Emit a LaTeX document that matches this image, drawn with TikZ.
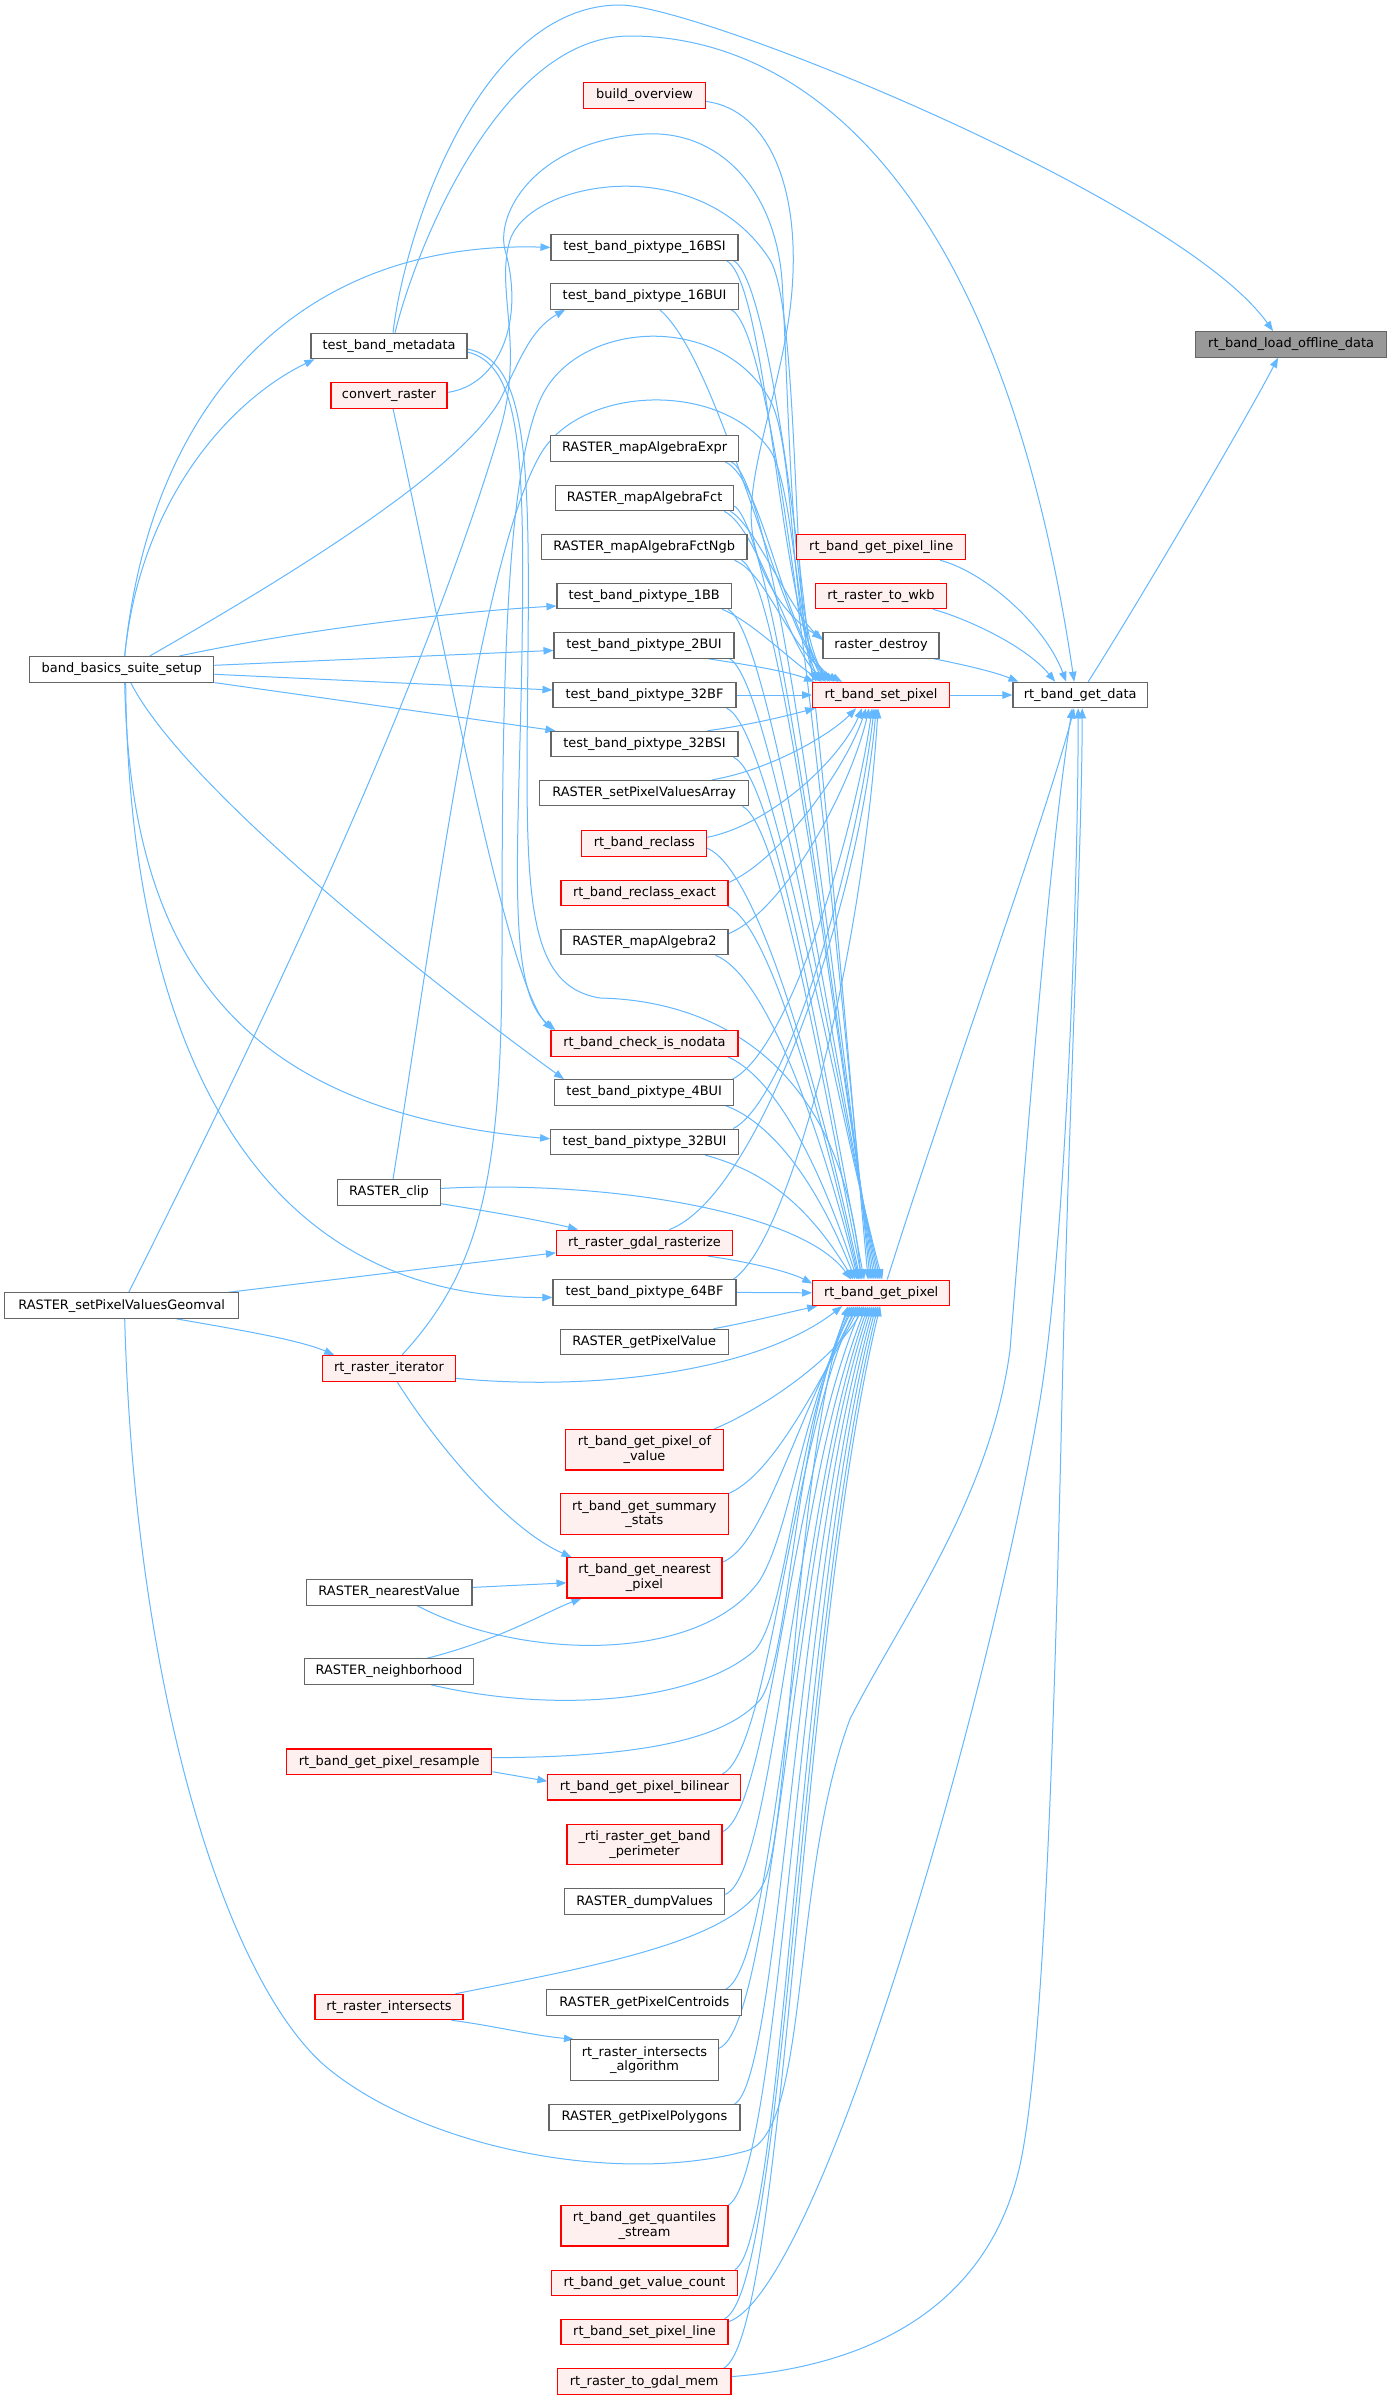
\documentclass[tikz,border=0pt]{standalone}
\usepackage{fontspec}
\newfontfamily\dvs{DejaVu Sans}
\usetikzlibrary{calc,arrows.meta}
\pgfdeclarelayer{bgw}\pgfdeclarelayer{edges}\pgfsetlayers{bgw,edges,main}
\definecolor{edgec}{HTML}{63B8FF}
\definecolor{redfill}{HTML}{FFF0F0}
\definecolor{boxgray}{HTML}{666666}
\definecolor{offfill}{HTML}{999999}
\tikzset{
 nbox/.style={draw=boxgray, fill=white, line width=0.8pt, minimum height=25.5*0.75pt, inner sep=0pt, align=center, font=\dvs\fontsize{9.7pt}{11.1pt}\selectfont},
 rbox/.style={nbox, draw=red, fill=redfill},
 obox/.style={nbox, fill=offfill},
 wd/.style={minimum width=#1*0.75pt},
 tall/.style={minimum height=40.3*0.75pt},
 edg/.style={draw=edgec, line width=0.75pt, -{Triangle[length=7.5pt,width=5.6pt]}},
}
\begin{document}
\begin{tikzpicture}[x=0.75pt,y=-0.75pt]
\useasboundingbox (0,0) rectangle (1392,2400);
\begin{pgfonlayer}{bgw}\fill[white] (0,0) rectangle (1392,2400);\end{pgfonlayer}
% column 0-2
\node[obox,wd=191.4] (off) at (1291.1,344.4) {rt\_band\_load\_offline\_data};
\node[nbox,wd=134.4] (gd) at (1080.2,695) {rt\_band\_get\_data};
\node[rbox,wd=169] (gpl) at (881.2,547) {rt\_band\_get\_pixel\_line};
\node[rbox,wd=131] (wkb) at (881,596) {rt\_raster\_to\_wkb};
\node[nbox,wd=116] (rd) at (881,645.4) {raster\_destroy};
\node[rbox,wd=136.7] (sp) at (881,695) {rt\_band\_set\_pixel};
\node[rbox,wd=137] (gp) at (881.2,1292.8) {rt\_band\_get\_pixel};
% column 3
\node[rbox,wd=122] (bo) at (644.6,95.4) {build\_overview};
\node[nbox,wd=187] (p16s) at (644.5,247.4) {test\_band\_pixtype\_16BSI};
\node[nbox,wd=188] (p16u) at (644.6,296.4) {test\_band\_pixtype\_16BUI};
\node[nbox,wd=188] (mae) at (644.6,448.5) {RASTER\_mapAlgebraExpr};
\node[nbox,wd=178.3] (maf) at (644.6,498) {RASTER\_mapAlgebraFct};
\node[nbox,wd=205.6] (mafn) at (644.2,547) {RASTER\_mapAlgebraFctNgb};
\node[nbox,wd=174.4] (p1bb) at (644.2,596) {test\_band\_pixtype\_1BB};
\node[nbox,wd=180] (p2bui) at (644,645.4) {test\_band\_pixtype\_2BUI};
\node[nbox,wd=183] (p32bf) at (644.5,695) {test\_band\_pixtype\_32BF};
\node[nbox,wd=187] (p32bsi) at (644.5,744) {test\_band\_pixtype\_32BSI};
\node[nbox,wd=209.5] (spva) at (644.2,793) {RASTER\_setPixelValuesArray};
\node[rbox,wd=124.7] (rc) at (644.3,843.3) {rt\_band\_reclass};
\node[rbox,wd=167] (rce) at (644.5,892.8) {rt\_band\_reclass\_exact};
\node[nbox,wd=167] (ma2) at (644.5,942) {RASTER\_mapAlgebra2};
\node[rbox,wd=187] (cin) at (644.5,1043.4) {rt\_band\_check\_is\_nodata};
\node[nbox,wd=179.5] (p4bui) at (644.2,1092.4) {test\_band\_pixtype\_4BUI};
\node[nbox,wd=188] (p32bui) at (644.6,1141.8) {test\_band\_pixtype\_32BUI};
\node[rbox,wd=176] (gr) at (644.5,1242.8) {rt\_raster\_gdal\_rasterize};
\node[nbox,wd=183] (p64bf) at (644.5,1292.4) {test\_band\_pixtype\_64BF};
\node[nbox,wd=167.7] (gpv) at (644.2,1342) {RASTER\_getPixelValue};
\node[rbox,wd=157.5,tall] (gpov) at (644.5,1449.8) {rt\_band\_get\_pixel\_of\\\_value};
\node[rbox,wd=168.5,tall] (gss) at (644.3,1514) {rt\_band\_get\_summary\\\_stats};
\node[rbox,wd=155,tall] (gnp) at (644.5,1577.8) {rt\_band\_get\_nearest\\\_pixel};
\node[rbox,wd=193] (bil) at (644.4,1787.2) {rt\_band\_get\_pixel\_bilinear};
\node[rbox,wd=155,tall] (per) at (644.5,1844.4) {\_rti\_raster\_get\_band\\\_perimeter};
\node[nbox,wd=160] (dv) at (644.7,1901.6) {RASTER\_dumpValues};
\node[nbox,wd=195] (gpc) at (644.4,2002.6) {RASTER\_getPixelCentroids};
\node[nbox,wd=148,tall] (ria) at (644.5,2060) {rt\_raster\_intersects\\\_algorithm};
\node[nbox,wd=191] (gpp) at (644.5,2117.3) {RASTER\_getPixelPolygons};
\node[rbox,wd=167,tall] (gqs) at (644.5,2225.8) {rt\_band\_get\_quantiles\\\_stream};
\node[rbox,wd=185.7] (gvc) at (644.5,2283) {rt\_band\_get\_value\_count};
\node[rbox,wd=167] (spl) at (644.5,2332) {rt\_band\_set\_pixel\_line};
\node[rbox,wd=173.6] (tgm) at (644.2,2381.6) {rt\_raster\_to\_gdal\_mem};
% column 4
\node[nbox,wd=156] (md) at (389,346) {test\_band\_metadata};
\node[rbox,wd=116] (cr) at (389,395.4) {convert\_raster};
\node[nbox,wd=103.2] (clip) at (389,1192.4) {RASTER\_clip};
\node[rbox,wd=132.4] (it) at (389,1368.3) {rt\_raster\_iterator};
\node[nbox,wd=165.6] (nv) at (389.2,1592.4) {RASTER\_nearestValue};
\node[nbox,wd=169.2] (nb) at (389,1671.5) {RASTER\_neighborhood};
\node[rbox,wd=205.5] (rs) at (389.2,1761.7) {rt\_band\_get\_pixel\_resample};
\node[rbox,wd=148] (ri) at (389,2007) {rt\_raster\_intersects};
% column 5
\node[nbox,wd=184.2] (bb) at (121.7,669.3) {band\_basics\_suite\_setup};
\node[nbox,wd=233.7] (gv) at (121.7,1305.6) {RASTER\_setPixelValuesGeomval};

\begin{pgfonlayer}{edges}
% to rt_band_load_offline_data
\draw[edg] ($(gd.north)+(8,0)$) .. controls (1140,600) and (1240,430) .. ($(off.south)+(-13,0)$);
\draw[edg] ($(md.north)+(4,0)$) .. controls (405,230) and (480,5) .. (620,5) .. controls (700,5) and (1180,200) .. ($(off.north)+(-18,0)$);
% to rt_band_get_data
\draw[edg] ($(md.north)+(6,0)$) .. controls (415,250) and (500,36) .. (630,36) .. controls (800,36) and (1000,180) .. ($(gd.north)+(-6,0)$);
\draw[edg] (sp.east) -- (gd.west);
\draw[edg] ($(rd.south east)+(-6,0)$) .. controls (965,665) and (995,672) .. ($(gd.north west)+(6,0)$);
\draw[edg] ($(wkb.south east)+(-14,0)$) .. controls (965,618) and (1025,645) .. ($(gd.north)+(-25,0)$);
\draw[edg] ($(gpl.south east)+(-26,0)$) .. controls (985,572) and (1045,625) .. ($(gd.north)+(-14,0)$);
\draw[edg] ($(gp.north)+(6,0)$) .. controls (950,1080) and (1045,820) .. ($(gd.south)+(-6,0)$);
\draw[edg] ($(spl.north east)+(0,3)$) .. controls (820,2290) and (990,1700) .. (1040,1400) .. controls (1065,1250) and (1078,900) .. ($(gd.south)+(-2,0)$);
\draw[edg] ($(tgm.east)+(0,-5)$) .. controls (880,2365) and (990,2300) .. (1020,2165) .. controls (1045,2050) and (1055,1700) .. (1062,1400) .. controls (1069,1100) and (1082,850) .. ($(gd.south)+(2,0)$);
\draw[edg] ($(gv.south)+(3,0)$) .. controls (135,1700) and (230,1990) .. (330,2070) .. controls (430,2150) and (620,2185) .. (746,2151) .. controls (810,2134) and (790,1880) .. (850,1719) .. controls (900,1620) and (990,1500) .. (1010,1350) .. controls (1030,1100) and (1050,850) .. ($(gd.south)+(-8,0)$);
% to raster_destroy
\draw[edg] ($(bo.east)+(0,6)$) .. controls (770,110) and (800,190) .. (792,290) .. controls (785,380) and (745,470) .. (752,530) .. controls (758,580) and (790,620) .. ($(rd.north west)+(0,6)$);
\draw[edg] ($(maf.south east)+(-4,0)$) .. controls (755,525) and (790,610) .. ($(rd.north west)+(0,8)$);
% long arcs to rt_band_set_pixel
\draw[edg] ($(cr.east)+(0,-3)$) .. controls (500,385) and (525,320) .. (505,250) .. controls (495,210) and (540,140) .. (645,134) .. controls (720,130) and (775,190) .. (782,280) .. controls (790,420) and (790,620) .. ($(sp.north west)+(16,0)$);
\draw[edg] ($(gv.north)+(7,0)$) .. controls (250,1050) and (420,700) .. (500,430) .. controls (525,345) and (495,290) .. (510,240) .. controls (530,180) and (700,150) .. (770,260) .. controls (800,310) and (792,620) .. ($(sp.north west)+(4,0)$);
\draw[edg] ($(it.north)+(13,0)$) .. controls (480,1270) and (502,1180) .. (502,950) .. controls (502,700) and (505,480) .. (540,400) .. controls (575,320) and (720,310) .. (770,400) .. controls (795,445) and (790,620) .. ($(sp.north west)+(8,0)$);
\draw[edg] ($(clip.north)+(4,0)$) .. controls (430,950) and (480,560) .. (540,455) .. controls (580,385) and (720,380) .. (770,450) .. controls (795,490) and (795,630) .. ($(sp.north west)+(12,0)$);
% upper nodes to set_pixel
\draw[edg] ($(p16s.south east)+(-12,0)$) .. controls (770,285) and (780,640) .. ($(sp.north west)+(22,0)$);
\draw[edg] ($(p16u.south)+(15,0)$) .. controls (720,360) and (780,630) .. ($(sp.north west)+(18,0)$);
\draw[edg] ($(mae.south east)+(-14,0)$) .. controls (765,480) and (785,645) .. ($(sp.north west)+(26,0)$);
\draw[edg] ($(maf.south east)+(-10,0)$) .. controls (760,530) and (788,650) .. ($(sp.north west)+(14,0)$);
\draw[edg] ($(mafn.south east)+(-13,0)$) .. controls (770,575) and (790,655) .. ($(sp.north west)+(30,0)$);
\draw[edg] ($(p1bb.south east)+(-10,0)$) .. controls (750,620) and (790,660) .. ($(sp.north west)+(10,0)$);
\draw[edg] ($(p2bui.south east)+(-27,0)$) .. controls (750,665) and (790,672) .. ($(sp.north west)+(2,0)$);
\draw[edg] (p32bf.east) -- (sp.west);
% upper nodes to get_pixel
\draw[edg] ($(p16s.south east)+(-5,0)$) .. controls (790,290) and (842,1000) .. ($(gp.north west)+(56,0)$);
\draw[edg] ($(p16u.south east)+(-8,0)$) .. controls (785,335) and (840,1000) .. ($(gp.north west)+(58,0)$);
\draw[edg] ($(mae.south east)+(-8,0)$) .. controls (780,485) and (838,1020) .. ($(gp.north west)+(60,0)$);
\draw[edg] ($(maf.east)+(0,8)$) .. controls (778,535) and (836,1030) .. ($(gp.north west)+(62,0)$);
\draw[edg] ($(mafn.south east)+(-6,0)$) .. controls (782,580) and (834,1040) .. ($(gp.north west)+(64,0)$);
\draw[edg] ($(p1bb.south east)+(-4,0)$) .. controls (770,630) and (832,1050) .. ($(gp.north west)+(66,0)$);
\draw[edg] ($(p2bui.south east)+(-5,0)$) .. controls (770,680) and (830,1060) .. ($(gp.north west)+(68,0)$);
\draw[edg] ($(p32bf.south east)+(-10,0)$) .. controls (770,725) and (828,1070) .. ($(gp.north west)+(70,0)$);
% middle nodes to set_pixel
\draw[edg] ($(p32bsi.north east)+(-31,0)$) .. controls (750,725) and (790,715) .. ($(sp.south west)+(3,0)$);
\draw[edg] ($(spva.north east)+(-37,0)$) .. controls (770,770) and (830,735) .. ($(sp.south west)+(44,0)$);
\draw[edg] ($(rc.east)+(0,-6)$) .. controls (770,825) and (840,760) .. ($(sp.south west)+(50,0)$);
\draw[edg] ($(rce.north east)+(0,3)$) .. controls (780,860) and (845,770) .. ($(sp.south west)+(54,0)$);
\draw[edg] ($(ma2.north east)+(0,5)$) .. controls (785,910) and (850,790) .. ($(sp.south west)+(57,0)$);
\draw[edg] ($(p4bui.north east)+(-2,0)$) .. controls (790,1050) and (855,830) .. ($(sp.south west)+(60,0)$);
\draw[edg] ($(p32bui.north east)+(-6,0)$) .. controls (790,1100) and (858,850) .. ($(sp.south west)+(62,0)$);
\draw[edg] ($(gr.north)+(25,0)$) .. controls (760,1195) and (860,900) .. ($(sp.south west)+(64,0)$);
\draw[edg] ($(p64bf.north east)+(-3,0)$) .. controls (790,1240) and (862,960) .. ($(sp.south west)+(66,0)$);
% middle nodes to get_pixel
\draw[edg] ($(p32bsi.south east)+(-5,0)$) .. controls (775,775) and (826,1080) .. ($(gp.north west)+(52,0)$);
\draw[edg] ($(spva.south east)+(-7,0)$) .. controls (780,825) and (824,1090) .. ($(gp.north west)+(50,0)$);
\draw[edg] ($(rc.east)+(0,5)$) .. controls (760,870) and (822,1100) .. ($(gp.north west)+(48,0)$);
\draw[edg] ($(rce.south east)+(-1,0)$) .. controls (770,925) and (820,1110) .. ($(gp.north west)+(47,0)$);
\draw[edg] ($(ma2.south east)+(-13,0)$) .. controls (765,975) and (818,1120) .. ($(gp.north west)+(46,0)$);
\draw[edg] ($(cin.south east)+(-11,0)$) .. controls (770,1075) and (815,1150) .. ($(gp.north west)+(45,0)$);
\draw[edg] ($(p4bui.south east)+(-9,0)$) .. controls (765,1120) and (812,1170) .. ($(gp.north west)+(43,0)$);
\draw[edg] ($(p32bui.south east)+(-34,0)$) .. controls (760,1170) and (805,1200) .. ($(gp.north west)+(41,0)$);
\draw[edg] ($(gr.south east)+(-25,0)$) .. controls (750,1262) and (790,1272) .. ($(gp.north west)+(0,4)$);
\draw[edg] (p64bf.east) -- (gp.west);
\draw[edg] ($(gpv.north east)+(-15,0)$) .. controls (750,1322) and (790,1312) .. ($(gp.south west)+(5,0)$);
% lower nodes to get_pixel
\draw[edg] ($(gpov.north east)+(-10,0)$) .. controls (760,1410) and (835,1360) .. ($(gp.south west)+(52,0)$);
\draw[edg] (gss.north east) .. controls (770,1475) and (810,1400) .. ($(gp.south west)+(48,0)$);
\draw[edg] ($(gnp.north east)+(0,5)$) .. controls (765,1545) and (795,1420) .. ($(gp.south west)+(46,0)$);
\draw[edg] ($(bil.north east)+(-19,0)$) .. controls (770,1750) and (790,1450) .. ($(gp.south west)+(44,0)$);
\draw[edg] ($(per.north east)+(0,8)$) .. controls (770,1810) and (790,1480) .. ($(gp.south west)+(50,0)$);
\draw[edg] ($(dv.north east)+(0,6)$) .. controls (775,1875) and (790,1500) .. ($(gp.south west)+(54,0)$);
\draw[edg] ($(gpc.north east)+(-17,0)$) .. controls (778,1965) and (792,1520) .. ($(gp.south west)+(56,0)$);
\draw[edg] ($(ria.north east)+(0,9)$) .. controls (775,2025) and (793,1540) .. ($(gp.south west)+(58,0)$);
\draw[edg] ($(gpp.north east)+(-6,0)$) .. controls (780,2080) and (795,1560) .. ($(gp.south west)+(60,0)$);
\draw[edg] (gqs.north east) .. controls (782,2170) and (797,1580) .. ($(gp.south west)+(62,0)$);
\draw[edg] ($(gvc.north east)+(-3,0)$) .. controls (785,2240) and (798,1600) .. ($(gp.south west)+(64,0)$);
\draw[edg] ($(spl.north east)+(-4,0)$) .. controls (785,2290) and (800,1620) .. ($(gp.south west)+(66,0)$);
\draw[edg] ($(tgm.north east)+(-8,0)$) .. controls (785,2335) and (800,1640) .. ($(gp.south west)+(68,0)$);
\draw[edg] ($(nv.south)+(28,0)$) .. controls (520,1660) and (700,1665) .. (760,1580) .. controls (790,1530) and (800,1420) .. ($(gp.south west)+(40,0)$);
\draw[edg] ($(nb.south)+(42,0)$) .. controls (560,1715) and (700,1700) .. (755,1650) .. controls (790,1610) and (795,1420) .. ($(gp.south west)+(42,0)$);
\draw[edg] ($(rs.east)+(0,-4)$) .. controls (620,1757) and (720,1745) .. (760,1700) .. controls (790,1660) and (795,1430) .. ($(gp.south west)+(38,0)$);
\draw[edg] ($(ri.north east)+(-8,0)$) .. controls (600,1965) and (740,1940) .. (765,1880) .. controls (790,1820) and (797,1450) .. ($(gp.south west)+(36,0)$);
\draw[edg] ($(it.east)+(0,10)$) .. controls (600,1392) and (760,1370) .. ($(gp.south west)+(30,0)$);
% band_basics_suite_setup
\draw[edg] ($(bb.north)+(3,0)$) .. controls (140,500) and (230,400) .. ($(md.south west)+(4,0)$);
\draw[edg] ($(bb.north)+(3,0)$) .. controls (150,400) and (300,240) .. (p16s.west);
\draw[edg] ($(bb.north)+(28,0)$) .. controls (300,570) and (460,470) .. (500,400) .. controls (520,360) and (530,330) .. ($(p16u.south west)+(15,0)$);
\draw[edg] ($(bb.north east)+(-35,0)$) .. controls (300,630) and (450,612) .. ($(p1bb.west)+(0,10)$);
\draw[edg] ($(bb.east)+(0,-4)$) -- ($(p2bui.west)+(0,5)$);
\draw[edg] ($(bb.east)+(0,5)$) -- ($(p32bf.west)+(0,-5)$);
\draw[edg] (bb.south east) -- ($(p32bsi.north west)+(5,0)$);
\draw[edg] ($(bb.south)+(9,0)$) .. controls (180,780) and (400,960) .. ($(p4bui.north west)+(10,0)$);
\draw[edg] ($(bb.south)+(3,0)$) .. controls (130,950) and (230,1110) .. ($(p32bui.west)+(0,-3)$);
\draw[edg] ($(bb.south)+(4,0)$) .. controls (128,1000) and (230,1300) .. ($(p64bf.west)+(0,5)$);
% RASTER_setPixelValuesGeomval
\draw[edg] ($(gv.north east)+(-11,0)$) -- ($(gr.west)+(0,10)$);
\draw[edg] ($(gv.south)+(55,0)$) .. controls (240,1330) and (300,1340) .. ($(it.north west)+(12,0)$);
% RASTER_clip
\draw[edg] ($(clip.south east)+(0,-2)$) .. controls (480,1210) and (540,1220) .. ($(gr.north west)+(22,0)$);
\draw[edg] ($(clip.east)+(0,-4)$) .. controls (600,1180) and (800,1210) .. ($(gp.north west)+(39,0)$);
% test_band_metadata, convert_raster
\draw[edg] ($(md.east)+(0,6)$) .. controls (520,365) and (525,450) .. (522,650) .. controls (519,850) and (505,990) .. ($(cin.north west)+(5,0)$);
\draw[edg] ($(md.east)+(0,3)$) .. controls (525,360) and (530,450) .. (528,650) .. controls (526,880) and (520,985) .. (600,998) .. controls (700,1000) and (840,1050) .. ($(gp.north west)+(49,0)$);
\draw[edg] ($(cr.south)+(4,0)$) .. controls (440,620) and (505,980) .. ($(cin.north west)+(2,0)$);
% others
\draw[edg] ($(ri.south east)+(-12,0)$) .. controls (490,2025) and (530,2035) .. ($(ria.north west)+(4,0)$);
\draw[edg] ($(rs.east)+(0,10)$) -- ($(bil.west)+(0,-6)$);
\draw[edg] ($(nv.east)+(0,-5)$) -- ($(gnp.west)+(0,5)$);
\draw[edg] ($(nb.north)+(38,0)$) .. controls (500,1640) and (550,1610) .. ($(gnp.south west)+(15,0)$);
\draw[edg] ($(it.south)+(8,0)$) .. controls (440,1450) and (510,1530) .. ($(gnp.north west)+(5,0)$);
\end{pgfonlayer}
\end{tikzpicture}
\end{document}
